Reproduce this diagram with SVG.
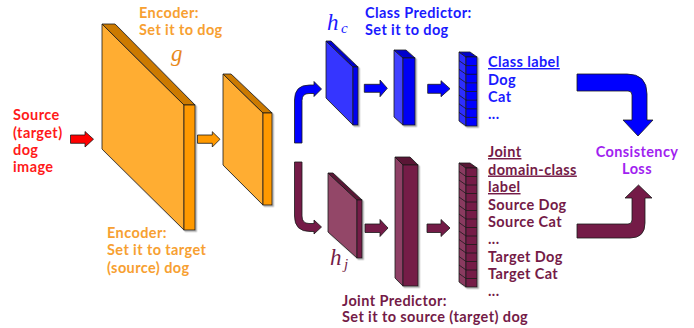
<svg xmlns="http://www.w3.org/2000/svg" width="694" height="328" viewBox="0 0 694 328">
<style>
text{font-family:Lato,"Open Sans","Liberation Sans",sans-serif;font-weight:700;font-size:14.5px;letter-spacing:0.4px}
text.math{font-family:"Liberation Serif","DejaVu Serif",serif;font-style:italic;font-weight:400;font-size:23px;letter-spacing:0}
text.sub{font-size:15px}
.red{fill:#ff1a1a}
.org{fill:#f7a031}
.blu{fill:#1a1aff}
.mar{fill:#741b47}
.pur{fill:#a11ff0}
.ol{stroke:#1a1a1a;stroke-width:0.8;stroke-linejoin:miter}
.sh{filter:url(#ds)}
</style>
<defs>
<filter id="ds" x="-20%" y="-20%" width="150%" height="150%">
<feDropShadow dx="1.5" dy="1.5" stdDeviation="0.6" flood-color="#777" flood-opacity="0.6"/>
</filter>
</defs>

<g id="input-label">
<text class="red" x="13" y="120">Source</text>
<text class="red" x="13" y="137.5">(target)</text>
<text class="red" x="13" y="155">dog</text>
<text class="red" x="13" y="172">image</text>
</g>

<g id="encoder-big" class="sh">
<polygon class="ol" points="102,24 184,105 184,230 102,149" fill="#ffad33"/>
<polygon class="ol" points="102,24 115,24 195,105 184,105" fill="#cc7a00"/>
<rect class="ol" x="184" y="105" width="11" height="125" fill="#ff9900"/>
</g>
<g id="encoder-small" class="sh">
<polygon class="ol" points="223,74 263,113 263,205 223,165" fill="#ffad33"/>
<polygon class="ol" points="223,74 231,74 272,113 263,113" fill="#cc7a00"/>
<rect class="ol" x="263" y="113" width="9" height="92" fill="#ff9900"/>
</g>
<g id="encoder-labels">
<text class="org" x="139" y="17.5">Encoder:</text>
<text class="org" x="139" y="34.5">Set it to dog</text>
<text class="math" x="171" y="61" fill="#e8891a">g</text>
<text class="org" x="107" y="237.5">Encoder:</text>
<text class="org" x="107" y="255">Set it to target</text>
<text class="org" x="107" y="272.5">(source) dog</text>
</g>

<g id="class-slab" class="sh">
<polygon class="ol" points="326,41 353,67 353,125 326,98" fill="#3535ff"/>
<polygon class="ol" points="326,41 331,41 358,67 353,67" fill="#0000cc"/>
<rect class="ol" x="353" y="67" width="5" height="58" fill="#0000ee"/>
</g>
<g id="class-hc">
<text class="math" x="327" y="29.5" fill="#1a1aff">h</text>
<text class="math sub" x="341" y="33" fill="#1a1aff">c</text>
<text class="blu" x="365" y="18">Class Predictor:</text>
<text class="blu" x="365" y="35">Set it to dog</text>
</g>
<g id="class-box" class="sh">
<polygon class="ol" points="394,50 403,58 403,125 394,117" fill="#4242ff"/>
<polygon class="ol" points="394,50 406,50 415,58 403,58" fill="#0000cc"/>
<rect class="ol" x="403" y="58" width="12" height="67" fill="#0000f5"/>
</g>
<g id="class-vector" class="sh">
<polygon class="ol" points="459,52 466,57 466,126 459,121" fill="#2e2eff"/>
<polygon class="ol" points="459,52 470,52 477,57 466,57" fill="#0000cc"/>
<rect class="ol" x="466" y="57" width="11" height="69" fill="#0000ff"/>
<path class="ol" fill="none" d="M466,65.6H477M466,74.3H477M466,82.9H477M466,91.5H477M466,100.1H477M466,108.8H477M466,117.4H477M459,60.6L466,65.6M459,69.3L466,74.3M459,77.9L466,82.9M459,86.5L466,91.5M459,95.1L466,100.1M459,103.8L466,108.8M459,112.4L466,117.4"/>
</g>
<g id="class-label">
<text class="blu" x="488" y="67" text-decoration="underline">Class label</text>
<text class="blu" x="488" y="84.5">Dog</text>
<text class="blu" x="488" y="102">Cat</text>
<text class="blu" x="488" y="118.5">...</text>
</g>

<g id="joint-slab" class="sh">
<polygon class="ol" points="328,173 357,200 357,258 328,232" fill="#934668"/>
<polygon class="ol" points="328,173 333,173 362,200 357,200" fill="#5a1236"/>
<rect class="ol" x="357" y="200" width="5" height="58" fill="#741b47"/>
</g>
<g id="joint-hj">
<text class="math" x="330" y="265" fill="#741b47">h</text>
<text class="math sub" x="344" y="269" fill="#741b47">j</text>
</g>
<g id="joint-box" class="sh">
<polygon class="ol" points="395,157 403,165 403,286 395,278" fill="#8f4066"/>
<polygon class="ol" points="395,157 410,157 418,165 403,165" fill="#5a1236"/>
<rect class="ol" x="403" y="165" width="15" height="121" fill="#741b47"/>
</g>
<g id="joint-vector" class="sh">
<polygon class="ol" points="459,163 466,168 466,287 459,282" fill="#8a3a60"/>
<polygon class="ol" points="459,163 470,163 477,168 466,168" fill="#5a1236"/>
<rect class="ol" x="466" y="168" width="11" height="119" fill="#741b47"/>
<path class="ol" fill="none" d="M466,176.5H477M466,185H477M466,193.5H477M466,202H477M466,210.5H477M466,219H477M466,227.5H477M466,236H477M466,244.5H477M466,253H477M466,261.5H477M466,270H477M466,278.5H477M459,171.5L466,176.5M459,180L466,185M459,188.5L466,193.5M459,197L466,202M459,205.5L466,210.5M459,214L466,219M459,222.5L466,227.5M459,231L466,236M459,239.5L466,244.5M459,248L466,253M459,256.5L466,261.5M459,265L466,270M459,273.5L466,278.5"/>
</g>
<g id="joint-label">
<text class="mar" x="488" y="157" text-decoration="underline">Joint</text>
<text class="mar" x="488" y="174.5" text-decoration="underline">domain-class</text>
<text class="mar" x="488" y="192" text-decoration="underline">label</text>
<text class="mar" x="488" y="209.5">Source Dog</text>
<text class="mar" x="488" y="227">Source Cat</text>
<text class="mar" x="488" y="244">...</text>
<text class="mar" x="488" y="261.5">Target Dog</text>
<text class="mar" x="488" y="279">Target Cat</text>
<text class="mar" x="488" y="296">...</text>
</g>
<g id="joint-predictor-label">
<text class="mar" x="342" y="305.5">Joint Predictor:</text>
<text class="mar" x="342" y="322">Set it to source (target) dog</text>
</g>
<g id="consistency-loss">
<text class="pur" x="637" y="157" text-anchor="middle">Consistency</text>
<text class="pur" x="637" y="173.5" text-anchor="middle">Loss</text>
</g>

<g id="connectors" class="ol">
<path d="M70.5,135H85V131.5L93.5,139.2L85,147V143.3H70.5Z" fill="#ff0000"/>
<path d="M197.5,135H212.3V131.7L220,139.3L212.3,147V143.3H197.5Z" fill="#ff9900"/>
<path d="M294.5,143V100Q294.5,85 309.5,85H314V81.5L321.5,89L314,96.5V93.5H309Q302,93.5 302,100.5V143Z" fill="#0000ff"/>
<path d="M364.3,84.3H380V80L387.3,88.3L380,96.7V92.3H364.3Z" fill="#0000ff"/>
<path d="M427.7,84.3H441V80.7L450,88.7L441,96.7V93.3H427.7Z" fill="#0000ff"/>
<path d="M294.5,162V216Q294.5,231.5 310,231.5H314V234L321.5,227L314,220V223.5H309Q302,223.5 302,216V162Z" fill="#741b47"/>
<path d="M365,224H380V219.5L388,228L380,236.5V232.5H365Z" fill="#741b47"/>
<path d="M427,224H441V219.5L450,228L441,236.5V232.5H427Z" fill="#741b47"/>
<path d="M577,74H627Q647,74 647,94V120H653L638,136L623,120H632V95Q632,91 628,91H577Z" fill="#0000ff"/>
<path d="M577,224H628Q632,224 632,220V198H625L638.5,185L652,198H645V223Q645,238 630,238H577Z" fill="#741b47"/>
</g>
</svg>
